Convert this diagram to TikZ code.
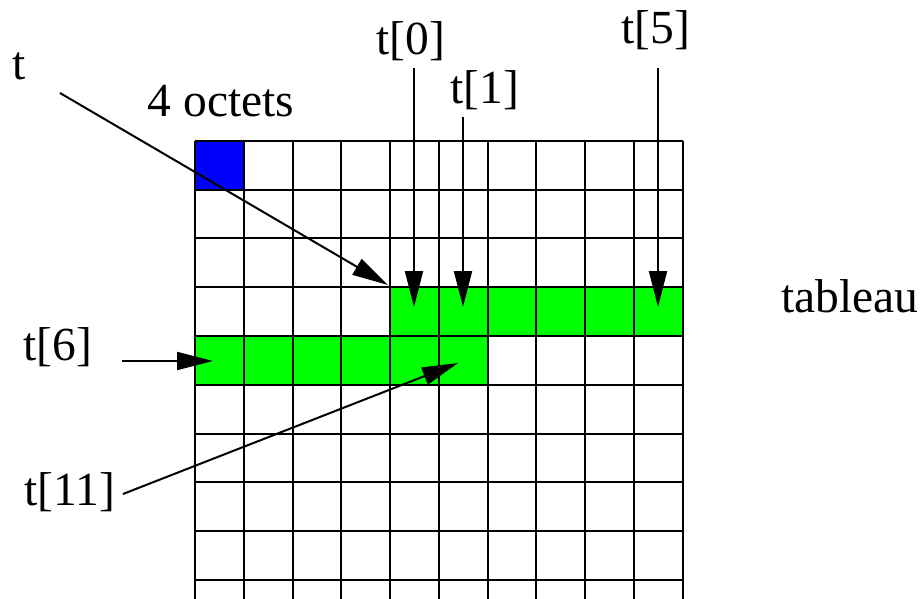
\documentclass[tikz,border=0pt]{standalone}
\usepackage{fontspec}
\setmainfont{Liberation Serif}
\usetikzlibrary{arrows.meta}
\definecolor{CellBlue}{RGB}{0,0,255}
\definecolor{CellGreen}{RGB}{0,255,0}
\tikzset{
  tab/label/.style={
    font=\fontsize{47.5}{52}\selectfont,
    inner sep=0pt,
    anchor=base
  },
  tab/line/.style={draw=black, line width=2pt},
  tab/arrow/.style={-{Triangle[length=36pt,width=18pt]}, line width=2pt, draw=black},
  tab/blue/.style={fill=CellBlue},
  tab/green/.style={fill=CellGreen}
}
\def\cw{48.75}

\begin{document}
\begin{tikzpicture}[x=1pt,y=-1pt]
  \useasboundingbox (0,0) rectangle (922,599);

  % cells
  \fill[tab/blue] (195,141) rectangle ++(\cw,\cw);
  \fill[tab/green] (195+4*\cw,141+3*\cw) rectangle (195+10*\cw,141+4*\cw);
  \fill[tab/green] (195,141+4*\cw) rectangle (195+6*\cw,141+5*\cw);

  % grid
  \foreach \i in {0,...,10}
    \draw[tab/line] (195+\i*\cw,141) -- (195+\i*\cw,599);
  \foreach \j in {0,...,9}
    \draw[tab/line] (195,141+\j*\cw) -- (195+10*\cw,141+\j*\cw);

  % labels
  \node[tab/label] (ptr) at (19,80) {t};
  \node[tab/label] (size) at (221,117) {4 octets};
  \node[tab/label] (t0) at (411,55) {t[0]};
  \node[tab/label] (t1) at (485,104) {t[1]};
  \node[tab/label] (t5) at (656,44) {t[5]};
  \node[tab/label] (t6) at (58,360) {t[6]};
  \node[tab/label] (t11) at (70,505) {t[11]};
  \node[tab/label] (tab) at (850,312) {tableau};

  % arrows
  \coordinate (ptr-from) at (60,93);
  \coordinate (ptr-to) at (388,285);
  \coordinate (t0-from) at (414,68);
  \coordinate (t0-to) at (414,307);
  \coordinate (t1-from) at (463,117);
  \coordinate (t1-to) at (463,307);
  \coordinate (t5-from) at (658,68);
  \coordinate (t5-to) at (658,307);
  \coordinate (t6-from) at (122,361);
  \coordinate (t6-to) at (213,361);
  \coordinate (t11-from) at (123,494);
  \coordinate (t11-to) at (458,363);
  \draw[tab/arrow] (ptr-from) -- (ptr-to);
  \draw[tab/arrow] (t0-from) -- (t0-to);
  \draw[tab/arrow] (t1-from) -- (t1-to);
  \draw[tab/arrow] (t5-from) -- (t5-to);
  \draw[tab/arrow] (t6-from) -- (t6-to);
  \draw[tab/arrow] (t11-from) -- (t11-to);
\end{tikzpicture}
\end{document}
